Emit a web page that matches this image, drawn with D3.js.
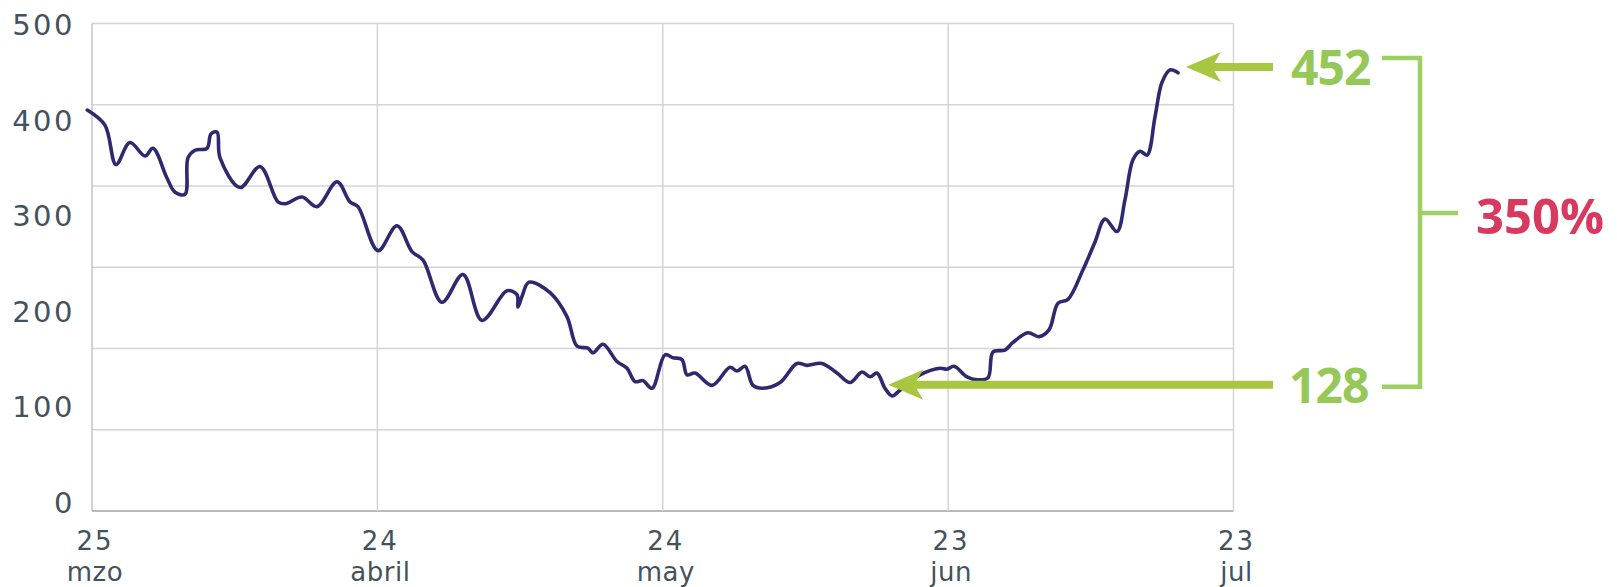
<!DOCTYPE html>
<html>
<head>
<meta charset="utf-8">
<script src="https://cdn.jsdelivr.net/npm/d3@7"></script>
<style>
  html, body { margin: 0; padding: 0; background: #ffffff; }
  svg { display: block; }
</style>
</head>
<body>
<svg id="chart" width="1617" height="587"></svg>
<script>
// ---- data (days since 25 March) ----
const days = [-0.5, 1.37, 2.52, 3.99, 5.57, 6.41, 7.88, 8.73, 9.78, 10.09, 10.83, 12.09, 12.51, 13.14, 13.46,
  15.56, 17.66, 19.55, 20.29, 22.08, 23.65, 25.76, 27.12, 27.96, 30.07, 32.06, 33.64, 34.8, 36.79, 39.0,
  41.0, 43.63, 44.68, 44.78, 45.2, 45.94, 48.15, 49.93, 50.99, 52.14, 52.67, 53.72, 55.19, 56.24, 57.08,
  57.92, 58.87, 60.24, 61.08, 62.02, 62.55, 63.39, 65.18, 67.07, 67.81, 68.65, 69.49, 70.54, 72.33, 74.11,
  75.16, 76.74, 78.32, 79.68, 80.95, 81.79, 82.52, 83.36, 84.1, 84.94, 87.04, 89.15, 89.88, 90.62, 91.98,
  93.04, 94.19, 94.72, 95.98, 96.82, 98.4, 99.55, 100.6, 101.55, 102.6, 104.18, 105.44, 106.49, 107.75,
  108.59, 109.43, 110.17, 110.91, 111.75, 112.48, 113.32, 114.17];
const values = [411, 395, 354, 377, 363, 371, 340, 325, 323, 361, 369, 371, 386, 388, 361,
  330, 352, 315, 313, 320, 310, 336, 315, 310, 264, 290, 263, 254, 210, 239,
  191, 222, 218, 205, 216, 231, 220, 195, 164, 162, 157, 166, 148, 141, 127,
  128, 120, 155, 152, 150, 134, 136, 123, 142, 138, 143, 123, 120, 126, 146,
  144, 146, 136, 126, 137, 132, 136, 120, 112, 118, 134, 141, 140, 143, 132,
  129, 131, 158, 160, 168, 178, 174, 181, 209, 213, 244, 273, 297, 284,
  317, 359, 368, 364, 404, 440, 453, 450];

const yTicks = [0, 100, 200, 300, 400, 500];
const xTickDays = [0, 30, 60, 90, 120];
const xTickDayLabels = ["25", "24", "24", "23", "23"];
const xTickMonthLabels = ["mzo", "abril", "may", "jun", "jul"];
const gridSteps = [0, 1, 2, 3, 4, 5, 6];

const peakValue = 452;
const lowValue = 128;
const peakArrowDay = 115;
const lowArrowDay = 83.7;
const changeLabel = "350%";

// ---- scales ----
const svg = d3.select("#chart");
const x = d3.scaleLinear().domain([0, 120]).range([92, 1233.5]);
const y = d3.scaleLinear().domain([0, 500]).range([503, 25]);
const grid = d3.scaleLinear().domain([0, 6]).range([511, 23.5]);

const gridColor = "#d4d4d4";
const tickColor = "#44525c";

// horizontal gridlines
svg.append("g").selectAll("line").data(gridSteps).join("line")
  .attr("x1", x(0)).attr("x2", x(120))
  .attr("y1", d => grid(d)).attr("y2", d => grid(d))
  .attr("stroke", d => d === 0 ? "#b9b9b9" : gridColor)
  .attr("stroke-width", d => d === 0 ? 2.2 : 1.5);

// vertical gridlines
svg.append("g").selectAll("line").data(xTickDays).join("line")
  .attr("x1", d => x(d)).attr("x2", d => x(d))
  .attr("y1", grid(6)).attr("y2", grid(0))
  .attr("stroke", d => d === 0 ? "#c4c4c4" : gridColor)
  .attr("stroke-width", 1.5);

// y tick labels
svg.append("g").selectAll("text").data(yTicks).join("text")
  .attr("x", 75).attr("y", d => y(d))
  .attr("text-anchor", "end")
  .attr("dominant-baseline", "central")
  .attr("font-family", "DejaVu Sans, sans-serif")
  .attr("font-size", 29)
  .attr("letter-spacing", 2.5)
  .attr("fill", tickColor)
  .text(d => d);

// x tick labels
const xg = svg.append("g").selectAll("g").data(xTickDays).join("g");
xg.append("text")
  .attr("x", d => x(d) + 3).attr("y", 550)
  .attr("text-anchor", "middle")
  .attr("font-family", "DejaVu Sans, sans-serif")
  .attr("font-size", 26)
  .attr("letter-spacing", 2)
  .attr("fill", tickColor)
  .text((d, i) => xTickDayLabels[i]);
xg.append("text")
  .attr("x", d => x(d) + 3).attr("y", 581)
  .attr("text-anchor", "middle")
  .attr("font-family", "DejaVu Sans, sans-serif")
  .attr("font-size", 26)
  .attr("letter-spacing", 0.5)
  .attr("fill", tickColor)
  .text((d, i) => xTickMonthLabels[i]);

// main line
const pts = days.map((d, i) => [d, values[i]]);
const line = d3.line()
  .x(d => x(d[0])).y(d => y(d[1]))
  .curve(d3.curveCatmullRom.alpha(0.5));
svg.append("path")
  .datum(pts)
  .attr("d", line)
  .attr("fill", "none")
  .attr("stroke", "#2f2a6f")
  .attr("stroke-width", 3.6)
  .attr("stroke-linejoin", "round")
  .attr("stroke-linecap", "round");

// ---- annotations ----
const arrowColor = "#a8c640";
const labelGreen = "#95c857";
const bracketGreen = "#9dcf62";
const shaftEnd = 1273;

function arrow(tipX, yy) {
  svg.append("line")
    .attr("x1", tipX + 22).attr("x2", shaftEnd)
    .attr("y1", yy).attr("y2", yy)
    .attr("stroke", arrowColor).attr("stroke-width", 8);
  svg.append("path")
    .attr("d", `M${tipX},${yy} L${tipX + 35},${yy - 15} L${tipX + 26},${yy} L${tipX + 35},${yy + 15} Z`)
    .attr("fill", arrowColor);
}
const peakY = y(peakValue) - 4;
const lowY = y(lowValue) + 4;
arrow(x(peakArrowDay), peakY);
arrow(x(lowArrowDay), lowY);

const bigFont = "'Open Sans', 'Noto Sans', sans-serif";
svg.append("text")
  .attr("x", 1291).attr("y", peakY)
  .attr("dominant-baseline", "central")
  .attr("font-family", bigFont).attr("font-weight", 700)
  .attr("font-size", 48).attr("letter-spacing", -1)
  .attr("fill", labelGreen)
  .text(peakValue);
svg.append("text")
  .attr("x", 1289).attr("y", lowY)
  .attr("dominant-baseline", "central")
  .attr("font-family", bigFont).attr("font-weight", 700)
  .attr("font-size", 48).attr("letter-spacing", -1)
  .attr("fill", labelGreen)
  .text(lowValue);

// bracket
const bTop = peakY - 9, bBot = lowY + 2, bX = 1420, midY = 213;
svg.append("path")
  .attr("d", `M1382,${bTop} H${bX} V${bBot} H1382 M${bX},${midY} H1458`)
  .attr("fill", "none")
  .attr("stroke", bracketGreen).attr("stroke-width", 4.5);

svg.append("text")
  .attr("x", 1476).attr("y", midY + 2)
  .attr("dominant-baseline", "central")
  .attr("font-family", bigFont).attr("font-weight", 700)
  .attr("font-size", 49)
  .attr("fill", "#d8395e")
  .text(changeLabel);
</script>
</body>
</html>
